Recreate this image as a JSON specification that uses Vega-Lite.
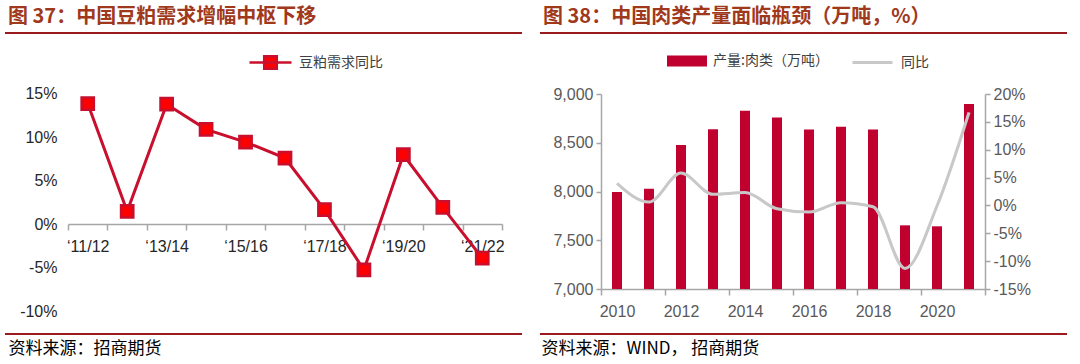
{
  "$schema": "https://vega.github.io/schema/vega-lite/v6.json",
  "background": "white",
  "padding": {"left": 4, "top": 6, "right": 0, "bottom": 0},
  "bounds": "flush",
  "spacing": 18,
  "config": {
    "font": "Liberation Sans",
    "view": {"stroke": null},
    "axis": {"grid": false, "labelFont": "Liberation Sans", "labelFontSize": 16, "domainColor": "#a6a6a6", "tickColor": "#a6a6a6", "domainWidth": 1.5, "tickWidth": 1.5, "labelColor": "#595959"},
    "title": {"font": "Noto Sans CJK SC", "fontSize": 20, "fontWeight": "bold", "color": "#a0391c", "anchor": "start", "frame": "group", "offset": 6, "dx": 3},
    "legend": {"labelFont": "Noto Sans CJK SC", "labelFontSize": 14, "labelColor": "#404040"}
  },
  "resolve": {"scale": {"fill": "independent", "stroke": "independent", "color": "independent"}, "legend": {"fill": "independent", "stroke": "independent", "color": "independent"}},
  "hconcat": [
    {
      "width": 517,
      "height": 301,
      "view": {"stroke": "#991b1e", "strokeWidth": 2, "strokeDash": [517, 301, 517, 301]},
      "title": {"text": "图 37：中国豆粕需求增幅中枢下移"},
      "data": {"values": [
        {"season": "11/12", "growth": 0.1385},
        {"season": "12/13", "growth": 0.0146},
        {"season": "13/14", "growth": 0.1377},
        {"season": "14/15", "growth": 0.1088},
        {"season": "15/16", "growth": 0.0942},
        {"season": "16/17", "growth": 0.0758},
        {"season": "17/18", "growth": 0.0165},
        {"season": "18/19", "growth": -0.0527},
        {"season": "19/20", "growth": 0.0796},
        {"season": "20/21", "growth": 0.0192},
        {"season": "21/22", "growth": -0.0392}
      ]},
      "encoding": {
        "x": {
          "field": "season", "type": "nominal", "sort": null,
          "scale": {"type": "band", "range": [63, 497], "paddingInner": 0, "paddingOuter": 0},
          "axis": {"title": null, "orient": "bottom", "offset": -110, "tickBand": "extent", "tickSize": 6, "labelAngle": 0, "labelPadding": 8, "labelColor": "#262626",
                   "labelExpr": "toNumber(substring(datum.value, 0, 2)) % 2 === 1 ? '‘' + datum.value : ''"}
        },
        "y": {
          "field": "growth", "type": "quantitative",
          "scale": {"domain": [-0.1, 0.15], "range": [278, 60.5], "nice": false, "zero": false},
          "axis": {"offset": -63, "values": [-0.1, -0.05, 0, 0.05, 0.1, 0.15], "format": ".0%", "labelExpr": "replace(datum.label, '\u2212', '-')", "domain": false, "ticks": false, "tickSize": 0, "labelPadding": 11, "labelColor": "#262626",
                   "title": "资料来源：招商期货", "titleX": -60, "titleY": 315, "titleAngle": 0, "titleAlign": "left", "titleBaseline": "middle", "titleFont": "Noto Sans CJK SC", "titleFontSize": 17, "titleFontWeight": "normal", "titleColor": "#000000"}
        }
      },
      "layer": [
        {"mark": {"type": "line", "color": "#c8102e", "strokeWidth": 3}},
        {
          "mark": {"type": "point", "shape": "square", "filled": true, "size": 150, "stroke": "#c8102e", "strokeWidth": 2.5, "opacity": 1},
          "encoding": {
            "fill": {"datum": "豆粕需求同比", "scale": {"range": ["#ff0000"]},
                     "legend": {"title": null, "orient": "none", "legendX": 243, "legendY": 7, "symbolType": "M-1,0H1M-0.3,-0.3H0.3V0.3H-0.3Z", "symbolSize": 1764, "symbolStrokeWidth": 2.5, "symbolStrokeColor": "#c8102e", "labelOffset": 6}}
          }
        }
      ]
    },
    {
      "width": 527,
      "height": 301,
      "view": {"stroke": "#991b1e", "strokeWidth": 2, "strokeDash": [527, 301, 527, 301]},
      "title": {"text": "图 38：中国肉类产量面临瓶颈（万吨，%）"},
      "data": {"values": [
        {"year": 2010, "output": 7994, "yoy": 0.0398},
        {"year": 2011, "output": 8027, "yoy": 0.006},
        {"year": 2012, "output": 8478, "yoy": 0.058},
        {"year": 2013, "output": 8639, "yoy": 0.020},
        {"year": 2014, "output": 8828, "yoy": 0.023},
        {"year": 2015, "output": 8759, "yoy": -0.006},
        {"year": 2016, "output": 8637, "yoy": -0.012},
        {"year": 2017, "output": 8663, "yoy": 0.005},
        {"year": 2018, "output": 8636, "yoy": -0.0024},
        {"year": 2019, "output": 7653, "yoy": -0.113},
        {"year": 2020, "output": 7643, "yoy": -0.001},
        {"year": 2021, "output": 8897, "yoy": 0.167}
      ]},
      "encoding": {
        "x": {
          "field": "year", "type": "ordinal",
          "scale": {"type": "band", "range": [61, 445], "paddingInner": 0, "paddingOuter": 0},
          "axis": {"title": null, "orient": "bottom", "offset": -45, "tickBand": "extent", "tickSize": 6, "labelAngle": 0, "labelPadding": 8,
                   "labelExpr": "datum.value % 2 === 0 ? datum.label : ''",
                   "tickOpacity": {"condition": {"test": "datum.value % 2 === 1 || datum.extra", "value": 1}, "value": 0}}
        }
      },
      "layer": [
        {
          "mark": {"type": "bar", "size": 10},
          "encoding": {
            "y": {"field": "output", "type": "quantitative",
                  "scale": {"domain": [7000, 9000], "range": [256, 61], "nice": false, "zero": false},
                  "axis": {"offset": -61, "values": [7000, 7500, 8000, 8500, 9000], "format": ",d", "tickSize": 5, "labelPadding": 3,
                           "title": "资料来源：WIND， 招商期货", "titleX": -60, "titleY": 315, "titleAngle": 0, "titleAlign": "left", "titleBaseline": "middle", "titleFont": "Noto Sans CJK SC", "titleFontSize": 17, "titleFontWeight": "normal", "titleColor": "#000000"}},
            "y2": {"datum": 7000},
            "fill": {"datum": "产量:肉类（万吨）", "scale": {"range": ["#c0002e"]},
                     "legend": {"title": null, "orient": "none", "legendX": 127, "legendY": 8, "symbolType": "M-1,-0.27H1V0.27H-1Z", "symbolSize": 1600, "symbolStrokeWidth": 0, "labelOffset": 6}}
          }
        },
        {
          "mark": {"type": "line", "strokeWidth": 3, "interpolate": "monotone"},
          "encoding": {
            "y": {"field": "yoy", "type": "quantitative",
                  "scale": {"domain": [-0.15, 0.2], "range": [256, 61], "nice": false, "zero": false},
                  "axis": {"orient": "right", "offset": -82, "title": null, "values": [-0.15, -0.1, -0.05, 0, 0.05, 0.1, 0.15, 0.2], "format": ".0%", "labelExpr": "replace(datum.label, '\u2212', '-')", "tickSize": 5, "labelPadding": 3}},
            "stroke": {"datum": "同比", "scale": {"range": ["#c8c8c8"]},
                       "legend": {"title": null, "orient": "none", "legendX": 311, "legendY": 8, "symbolType": "M-1,0H1", "symbolSize": 1600, "symbolStrokeWidth": 3, "labelOffset": 7}}
          }
        }
      ],
      "resolve": {"scale": {"y": "independent"}}
    }
  ]
}
